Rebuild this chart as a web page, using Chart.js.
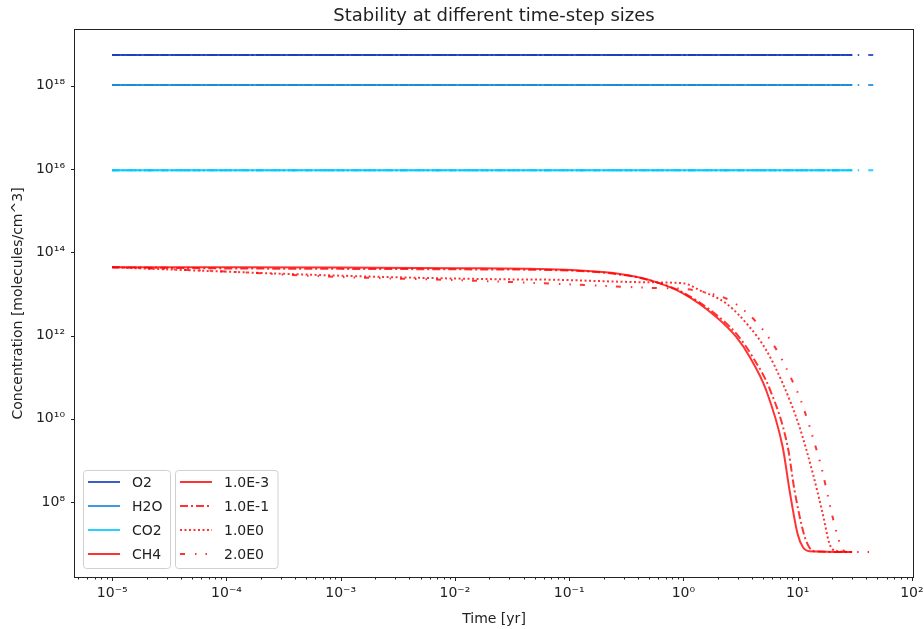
<!DOCTYPE html>
<html>
<head>
<meta charset="utf-8">
<script src="https://cdn.jsdelivr.net/npm/chart.js@4.4.1/dist/chart.umd.min.js"></script>
<style>
  html, body { margin: 0; padding: 0; background: #fff; }
  #wrap { width: 924px; height: 629px; }
</style>
</head>
<body>
<div id="wrap"><canvas id="stabilityChart" width="924" height="629"></canvas></div>
<script>
// species and time-step sizes
const species = ['O2', 'H2O', 'CO2', 'CH4'];
const stepSizes = ['1.0E-3', '1.0E-1', '1.0E0', '2.0E0'];
const speciesColors = ['rgba(26,63,191,0.85)', 'rgba(26,138,216,0.85)', 'rgba(0,200,255,0.85)', 'rgba(255,0,0,0.8)'];
const stepDashes = [[], [8, 3, 2, 3], [2, 2.5], [5, 10, 1.5, 9, 1.5, 9]];

// constant species (molecules/cm^3)
const o2Level = 5.5e18;
const h2oLevel = 1.05e18;
const co2Level = 9.3e15;
const runStart = 1e-5;
const runEnd = [30, 30, 31, 46];

// CH4, one run per step size (time in yr, conc in molecules/cm^3)
const ch4Time_1e3 = [1e-5, 1e-4, 1e-3, 1e-2, 0.068, 0.26, 0.51, 1.0, 1.94, 2.9, 3.8, 5.3, 7.4, 8.5, 10.0, 11.1, 12.7, 30];
const ch4Conc_1e3 = [4.37e13, 4.35e13, 4.3e13, 4.15e13, 3.9e13, 3.1e13, 2.15e13, 1.02e13, 2.8e12, 9.3e11, 3.1e11, 4.9e10, 2.1e9, 1.9e8, 1.7e7, 8.3e6, 6.6e6, 6.3e6];

const ch4Time_1e1 = [1e-5, 1e-4, 1e-3, 1e-2, 0.1, 0.26, 0.5, 1.0, 2.0, 3.0, 4.0, 5.75, 8.2, 9.4, 11.35, 12.6, 14.1, 30];
const ch4Conc_1e1 = [4.37e13, 4.1e13, 4.0e13, 3.9e13, 3.65e13, 3.0e13, 2.15e13, 1.07e13, 2.95e12, 1.0e12, 3.2e11, 4.9e10, 2.1e9, 1.9e8, 1.7e7, 8.3e6, 6.5e6, 6.3e6];

const ch4Time_1e0 = [1e-5, 4.8e-5, 4.4e-4, 3.3e-3, 0.025, 0.068, 0.5, 1.0, 1.39, 2.37, 3.8, 5.3, 7.4, 10.4, 13.6, 16.6, 19.0, 21.0, 31];
const ch4Conc_1e0 = [4.37e13, 3.7e13, 2.95e13, 2.5e13, 2.25e13, 2.2e13, 1.9e13, 1.8e13, 1.23e13, 5.9e12, 1.6e12, 4.5e11, 7.1e10, 6.3e9, 4.8e8, 5.2e7, 1.0e7, 6.9e6, 6.3e6];

const ch4Time_2e0 = [1e-5, 2.1e-5, 1e-4, 4.4e-4, 1e-3, 1e-2, 0.1, 0.5, 1.0, 1.5, 2.54, 3.74, 5.13, 6.95, 8.6, 10.5, 12.5, 14.4, 16.4, 18.5, 20.6, 23.7, 26.6, 46];
const ch4Conc_2e0 = [4.37e13, 4.1e13, 3.45e13, 2.8e13, 2.55e13, 2.15e13, 1.7e13, 1.4e13, 1.32e13, 1.12e13, 7.1e12, 3.2e12, 1.23e12, 3.4e11, 1.05e11, 3.1e10, 7.6e9, 2.1e9, 5.8e8, 1.3e8, 3.6e7, 9.5e6, 6.3e6, 6.3e6];

// tick labels
const xTickValues = [1e-5, 1e-4, 1e-3, 1e-2, 1e-1, 1e0, 1e1, 1e2];
const xTickLabels = ['10⁻⁵', '10⁻⁴', '10⁻³', '10⁻²', '10⁻¹', '10⁰', '10¹', '10²'];
const yTickValues = [1e8, 1e10, 1e12, 1e14, 1e16, 1e18];
const yTickLabels = ['10⁸', '10¹⁰', '10¹²', '10¹⁴', '10¹⁶', '10¹⁸'];

const ch4Runs = [
  [ch4Time_1e3, ch4Conc_1e3],
  [ch4Time_1e1, ch4Conc_1e1],
  [ch4Time_1e0, ch4Conc_1e0],
  [ch4Time_2e0, ch4Conc_2e0]
];
const flatLevels = [o2Level, h2oLevel, co2Level];

const datasets = [];
species.forEach((sp, s) => {
  stepSizes.forEach((step, k) => {
    let pts;
    if (s < 3) {
      pts = [{ x: runStart, y: flatLevels[s] }, { x: runEnd[k], y: flatLevels[s] }];
    } else {
      pts = ch4Runs[k][0].map((t, i) => ({ x: t, y: ch4Runs[k][1][i] }));
    }
    datasets.push({
      label: sp + ' ' + step,
      data: pts,
      borderColor: speciesColors[s],
      borderWidth: 2,
      borderDash: stepDashes[k],
      pointRadius: 0,
      fill: false,
      cubicInterpolationMode: 'monotone'
    });
  });
});

// axes frame + tick marks (major and minor), like matplotlib
const frameTicks = {
  id: 'frameTicks',
  afterDraw(chart) {
    const { ctx, chartArea: a, scales } = chart;
    ctx.save();
    ctx.strokeStyle = '#222';
    ctx.lineWidth = 1;
    ctx.strokeRect(a.left - 0.5, a.top - 0.5, a.right - a.left + 1, a.bottom - a.top + 1);
    ctx.beginPath();
    for (let e = -6; e <= 2; e++) {
      for (let m = 1; m <= 9; m++) {
        const v = m * Math.pow(10, e);
        if (v < scales.x.min || v > scales.x.max) continue;
        const px = Math.round(scales.x.getPixelForValue(v)) + 0.5;
        ctx.moveTo(px, a.bottom);
        ctx.lineTo(px, a.bottom + (m === 1 ? 4 : 2.5));
      }
    }
    yTickValues.forEach(v => {
      const py = Math.round(scales.y.getPixelForValue(v)) + 0.5;
      ctx.moveTo(a.left, py);
      ctx.lineTo(a.left - 4, py);
    });
    ctx.stroke();
    ctx.restore();
  }
};

// two legend boxes (species, step sizes)
const twoLegends = {
  id: 'twoLegends',
  afterDatasetsDraw(chart) {
    const { ctx } = chart;
    const rows = [482, 506, 530, 554];
    const boxes = [
      { x: 83, w: 87, names: species, colors: speciesColors, dashes: [[], [], [], []], lx: 88, tx: 132 },
      { x: 175, w: 102.5, names: stepSizes, colors: stepSizes.map(() => speciesColors[3]), dashes: stepDashes, lx: 180, tx: 224 }
    ];
    ctx.save();
    boxes.forEach(b => {
      ctx.beginPath();
      ctx.roundRect(b.x + 0.5, 470.5, b.w, 98, 3);
      ctx.fillStyle = 'rgba(255,255,255,0.8)';
      ctx.fill();
      ctx.strokeStyle = '#d0d0d0';
      ctx.lineWidth = 1;
      ctx.stroke();
      b.names.forEach((n, i) => {
        ctx.beginPath();
        ctx.setLineDash(b.dashes[i]);
        ctx.strokeStyle = b.colors[i];
        ctx.lineWidth = 2;
        ctx.moveTo(b.lx, rows[i]);
        ctx.lineTo(b.lx + 32, rows[i]);
        ctx.stroke();
        ctx.setLineDash([]);
        ctx.fillStyle = '#222';
        ctx.font = '14px "DejaVu Sans"';
        ctx.textBaseline = 'middle';
        ctx.fillText(n, b.tx, rows[i] + 1);
      });
    });
    ctx.restore();
  }
};

const ctx = document.getElementById('stabilityChart').getContext('2d');
new Chart(ctx, {
  type: 'line',
  data: { datasets: datasets },
  plugins: [frameTicks, twoLegends],
  options: {
    responsive: false,
    animation: false,
    devicePixelRatio: 1,
    layout: { padding: { left: 0, right: 11, top: 0, bottom: 0 } },
    plugins: {
      legend: { display: false },
      tooltip: { enabled: false },
      title: {
        display: true,
        fullSize: false,
        text: 'Stability at different time-step sizes',
        color: '#222',
        font: { family: 'DejaVu Sans', size: 18, weight: 'normal', lineHeight: 1.2 },
        padding: { top: 6, bottom: 2.4 }
      }
    },
    scales: {
      x: {
        type: 'logarithmic',
        min: Math.pow(10, -5.326),
        max: Math.pow(10, 2.01),
        afterBuildTicks: s => { s.ticks = xTickValues.map(v => ({ value: v })); },
        afterFit: s => { s.height = 52; s.paddingLeft = 0; s.paddingRight = 0; },
        grid: { color: 'rgba(0,0,0,0)', drawTicks: false },
        border: { display: false },
        ticks: {
          autoSkip: false, maxRotation: 0, padding: 8, color: '#222',
          font: { family: 'DejaVu Sans', size: 14 },
          callback: (v, i) => xTickLabels[i]
        },
        title: {
          display: true, text: 'Time [yr]', color: '#222',
          font: { family: 'DejaVu Sans', size: 14 },
          padding: { top: 0, bottom: 1 }
        }
      },
      y: {
        type: 'logarithmic',
        min: Math.pow(10, 6.2),
        max: Math.pow(10, 19.34),
        afterBuildTicks: s => { s.ticks = yTickValues.map(v => ({ value: v })); },
        afterFit: s => { s.width = 75; s.paddingTop = 0; s.paddingBottom = 0; },
        grid: { color: 'rgba(0,0,0,0)', drawTicks: false },
        border: { display: false },
        ticks: {
          autoSkip: false, padding: 10, color: '#222',
          font: { family: 'DejaVu Sans', size: 14 },
          callback: (v, i) => yTickLabels[i]
        },
        title: {
          display: true, text: 'Concentration [molecules/cm^3]', color: '#222',
          font: { family: 'DejaVu Sans', size: 14 },
          padding: { top: 10, bottom: 0 }
        }
      }
    }
  }
});
</script>
</body>
</html>
